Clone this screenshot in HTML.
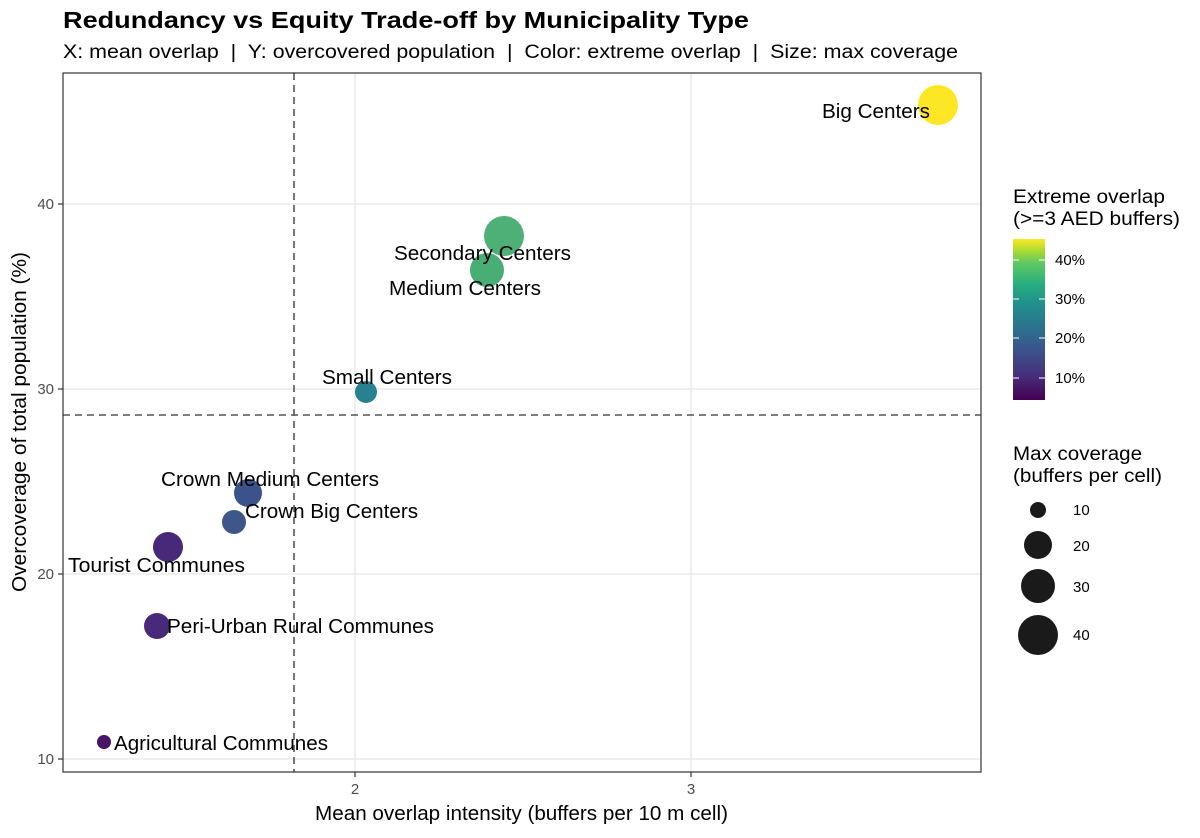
<!DOCTYPE html>
<html><head><meta charset="utf-8"><style>
body{margin:0;background:#fff;}
svg text{font-family:"Liberation Sans",Arial,sans-serif;white-space:pre;}
</style></head><body>
<svg width="1200" height="833" viewBox="0 0 1200 833" xmlns="http://www.w3.org/2000/svg" xml:space="preserve">
<defs>
<linearGradient id="vir" x1="0" y1="1" x2="0" y2="0">
<stop offset="0" stop-color="#440154"/>
<stop offset="0.15" stop-color="#472d7b"/>
<stop offset="0.3" stop-color="#3b528b"/>
<stop offset="0.45" stop-color="#2c728e"/>
<stop offset="0.6" stop-color="#21918c"/>
<stop offset="0.72" stop-color="#28ae80"/>
<stop offset="0.85" stop-color="#5ec962"/>
<stop offset="0.93" stop-color="#addc30"/>
<stop offset="1" stop-color="#fde725"/>
</linearGradient>
</defs>
<text x="63" y="28" font-size="23" font-weight="bold" fill="#000" textLength="686" lengthAdjust="spacingAndGlyphs">Redundancy vs Equity Trade-off by Municipality Type</text>
<text x="63" y="58" font-size="19" fill="#000" textLength="895" lengthAdjust="spacingAndGlyphs">X: mean overlap  |  Y: overcovered population  |  Color: extreme overlap  |  Size: max coverage</text>
<rect x="63" y="73" width="918" height="699" fill="#fff"/>
<g stroke="#ebebeb" stroke-width="1.5">
<line x1="355" y1="73" x2="355" y2="772"/>
<line x1="691" y1="73" x2="691" y2="772"/>
<line x1="63" y1="204" x2="981" y2="204"/>
<line x1="63" y1="389" x2="981" y2="389"/>
<line x1="63" y1="574" x2="981" y2="574"/>
<line x1="63" y1="759" x2="981" y2="759"/>
</g>
<g stroke="#555" stroke-width="1.6" stroke-dasharray="7,5">
<line x1="294" y1="73" x2="294" y2="772"/>
<line x1="63" y1="415" x2="981" y2="415"/>
</g>
<g>
<circle cx="938" cy="105" r="20" fill="#fde725"/>
<circle cx="504" cy="236" r="20" fill="#4fb077"/>
<circle cx="487" cy="270" r="17" fill="#48ae76"/>
<circle cx="366" cy="392" r="11" fill="#27818e"/>
<circle cx="248" cy="493" r="14" fill="#3b528b"/>
<circle cx="234" cy="522" r="12" fill="#3e568a"/>
<circle cx="168" cy="547" r="15" fill="#482979"/>
<circle cx="157" cy="626" r="13" fill="#472a7a"/>
<circle cx="104" cy="742" r="7" fill="#481467"/>
</g>
<g font-size="20" fill="#000">
<text x="822" y="118" textLength="108" lengthAdjust="spacingAndGlyphs">Big Centers</text>
<text x="394" y="260" textLength="177" lengthAdjust="spacingAndGlyphs">Secondary Centers</text>
<text x="389" y="295" textLength="152" lengthAdjust="spacingAndGlyphs">Medium Centers</text>
<text x="322" y="384" textLength="130" lengthAdjust="spacingAndGlyphs">Small Centers</text>
<text x="161" y="486" textLength="218" lengthAdjust="spacingAndGlyphs">Crown Medium Centers</text>
<text x="245" y="518" textLength="173" lengthAdjust="spacingAndGlyphs">Crown Big Centers</text>
<text x="68" y="572" textLength="177" lengthAdjust="spacingAndGlyphs">Tourist Communes</text>
<text x="167" y="633" textLength="267" lengthAdjust="spacingAndGlyphs">Peri-Urban Rural Communes</text>
<text x="114" y="750" textLength="214" lengthAdjust="spacingAndGlyphs">Agricultural Communes</text>
</g>
<rect x="63" y="73" width="918" height="699" fill="none" stroke="#333" stroke-width="1.2"/>
<g stroke="#333" stroke-width="1.2">
<line x1="355" y1="772" x2="355" y2="777"/>
<line x1="691" y1="772" x2="691" y2="777"/>
<line x1="58" y1="204" x2="63" y2="204"/>
<line x1="58" y1="389" x2="63" y2="389"/>
<line x1="58" y1="574" x2="63" y2="574"/>
<line x1="58" y1="759" x2="63" y2="759"/>
</g>
<g font-size="15" fill="#4d4d4d">
<text x="355" y="794" text-anchor="middle">2</text>
<text x="691" y="794" text-anchor="middle">3</text>
<text x="54" y="209" text-anchor="end">40</text>
<text x="54" y="394" text-anchor="end">30</text>
<text x="54" y="579" text-anchor="end">20</text>
<text x="54" y="764" text-anchor="end">10</text>
</g>
<text x="315" y="820" font-size="20" fill="#000" textLength="413" lengthAdjust="spacingAndGlyphs">Mean overlap intensity (buffers per 10 m cell)</text>
<text transform="translate(26,592) rotate(-90)" font-size="20" fill="#000" textLength="340" lengthAdjust="spacingAndGlyphs">Overcoverage of total population (%)</text>
<g font-size="19" fill="#000">
<text x="1013" y="203" textLength="152" lengthAdjust="spacingAndGlyphs">Extreme overlap</text>
<text x="1013" y="225" textLength="167" lengthAdjust="spacingAndGlyphs">(&gt;=3 AED buffers)</text>
<text x="1013" y="460" textLength="129" lengthAdjust="spacingAndGlyphs">Max coverage</text>
<text x="1013" y="482" textLength="149" lengthAdjust="spacingAndGlyphs">(buffers per cell)</text>
</g>
<rect x="1013" y="239" width="32" height="161" fill="url(#vir)"/>
<g stroke="#fff" stroke-width="1">
<line x1="1013" y1="260" x2="1019" y2="260"/><line x1="1039" y1="260" x2="1045" y2="260"/>
<line x1="1013" y1="299" x2="1019" y2="299"/><line x1="1039" y1="299" x2="1045" y2="299"/>
<line x1="1013" y1="338" x2="1019" y2="338"/><line x1="1039" y1="338" x2="1045" y2="338"/>
<line x1="1013" y1="378" x2="1019" y2="378"/><line x1="1039" y1="378" x2="1045" y2="378"/>
</g>
<g font-size="15" fill="#000">
<text x="1055" y="265">40%</text>
<text x="1055" y="304">30%</text>
<text x="1055" y="343">20%</text>
<text x="1055" y="383">10%</text>
<text x="1073" y="515">10</text>
<text x="1073" y="551">20</text>
<text x="1073" y="592">30</text>
<text x="1073" y="640">40</text>
</g>
<g fill="#1a1a1a">
<circle cx="1038" cy="510" r="8"/>
<circle cx="1038" cy="545" r="14"/>
<circle cx="1038" cy="586" r="17"/>
<circle cx="1038" cy="635" r="20"/>
</g>
</svg>
</body></html>
